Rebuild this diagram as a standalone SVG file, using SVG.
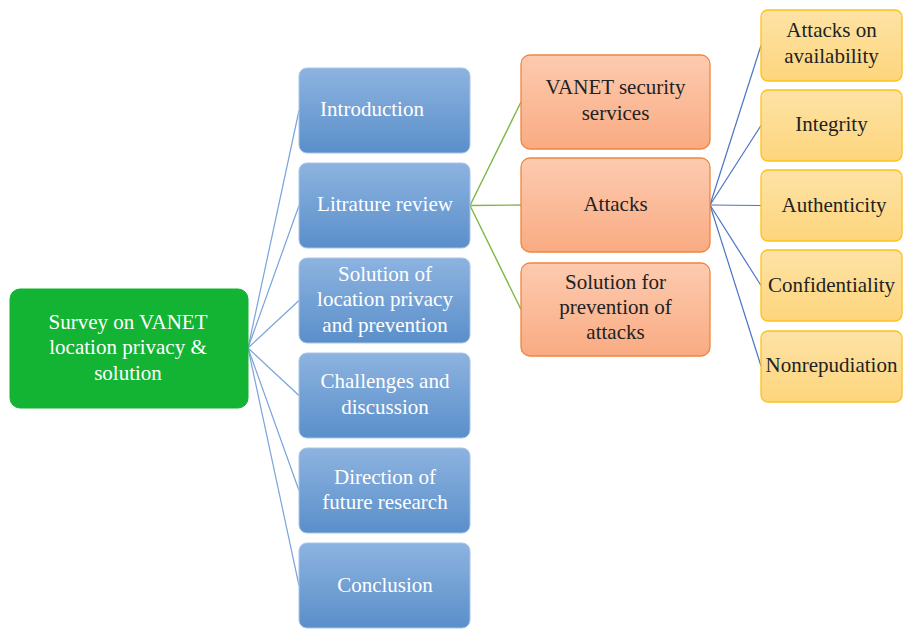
<svg xmlns="http://www.w3.org/2000/svg" width="904" height="629" viewBox="0 0 904 629">
<defs>
<linearGradient id="gBlue" x1="0" y1="0" x2="0" y2="1"><stop offset="0" stop-color="#8db3e0"/><stop offset="1" stop-color="#5a8fca"/></linearGradient>
<linearGradient id="gOrange" x1="0" y1="0" x2="0" y2="1"><stop offset="0" stop-color="#fdcbb0"/><stop offset="1" stop-color="#f9ab82"/></linearGradient>
<linearGradient id="gYellow" x1="0" y1="0" x2="0" y2="1"><stop offset="0" stop-color="#fee3a6"/><stop offset="1" stop-color="#fdd57c"/></linearGradient>
</defs>
<style>
text{font-family:"Liberation Serif","Times New Roman",serif;font-size:21px;text-anchor:middle}
.root rect{fill:#13b334;stroke:#13b334;stroke-width:1}
.root text{fill:#ffffff}
.blue rect{fill:url(#gBlue);stroke:#a9c4e6;stroke-width:1}
.blue text{fill:#ffffff}
.orange rect{fill:url(#gOrange);stroke:#ee8540;stroke-width:1.3}
.orange text{fill:#222222}
.yellow rect{fill:url(#gYellow);stroke:#fcc21b;stroke-width:1.3}
.yellow text{fill:#222222}
.cb{stroke:#79a4da;stroke-width:1.2;fill:none}
.cg{stroke:#7cb845;stroke-width:1.4;fill:none}
.cd{stroke:#4a74c6;stroke-width:1.2;fill:none}
</style>
<rect width="904" height="629" fill="#ffffff"/>
<g id="connectors">
<line class="cb" x1="248" y1="348" x2="299" y2="110.5"/>
<line class="cb" x1="248" y1="348" x2="299" y2="205.5"/>
<line class="cb" x1="248" y1="348" x2="299" y2="300.5"/>
<line class="cb" x1="248" y1="348" x2="299" y2="395.5"/>
<line class="cb" x1="248" y1="348" x2="299" y2="490.5"/>
<line class="cb" x1="248" y1="348" x2="299" y2="585.5"/>
<line class="cg" x1="470" y1="205.5" x2="521" y2="102"/>
<line class="cg" x1="470" y1="205.5" x2="521" y2="205"/>
<line class="cg" x1="470" y1="205.5" x2="521" y2="309.5"/>
<line class="cd" x1="710" y1="205" x2="761" y2="45.5"/>
<line class="cd" x1="710" y1="205" x2="761" y2="125.5"/>
<line class="cd" x1="710" y1="205" x2="761" y2="205.5"/>
<line class="cd" x1="710" y1="205" x2="761" y2="285.5"/>
<line class="cd" x1="710" y1="205" x2="761" y2="366"/>
</g>
<g id="root" class="root"><rect x="10" y="289" width="238" height="119" rx="10"/>
<text x="128" y="329">Survey on VANET</text><text x="128" y="354">location privacy &amp;</text><text x="128" y="380">solution</text></g>
<g id="introduction" class="blue"><rect x="299" y="68" width="171" height="85" rx="8"/><text x="372" y="116">Introduction</text></g>
<g id="litrature" class="blue"><rect x="299" y="163" width="171" height="85" rx="8"/><text x="385" y="211">Litrature review</text></g>
<g id="solution-location" class="blue"><rect x="299" y="258" width="171" height="85" rx="8"/><text x="385" y="281">Solution of</text><text x="385" y="306">location privacy</text><text x="385" y="332">and prevention</text></g>
<g id="challenges" class="blue"><rect x="299" y="353" width="171" height="85" rx="8"/><text x="385" y="388">Challenges and</text><text x="385" y="414">discussion</text></g>
<g id="direction" class="blue"><rect x="299" y="448" width="171" height="85" rx="8"/><text x="385" y="484">Direction of</text><text x="385" y="509">future research</text></g>
<g id="conclusion" class="blue"><rect x="299" y="543" width="171" height="85" rx="8"/><text x="385" y="592">Conclusion</text></g>
<g id="security-services" class="orange"><rect x="521" y="55" width="189" height="94" rx="9"/><text x="615.5" y="94">VANET security</text><text x="615.5" y="120">services</text></g>
<g id="attacks" class="orange"><rect x="521" y="158" width="189" height="94" rx="9"/><text x="615.5" y="211">Attacks</text></g>
<g id="solution-attacks" class="orange"><rect x="521" y="263" width="189" height="93" rx="9"/><text x="615.5" y="289">Solution for</text><text x="615.5" y="314">prevention of</text><text x="615.5" y="339">attacks</text></g>
<g id="availability" class="yellow"><rect x="761" y="10" width="141" height="71" rx="7"/><text x="831.5" y="37">Attacks on</text><text x="831.5" y="63">availability</text></g>
<g id="integrity" class="yellow"><rect x="761" y="90" width="141" height="71" rx="7"/><text x="831.5" y="131">Integrity</text></g>
<g id="authenticity" class="yellow"><rect x="761" y="170" width="141" height="71" rx="7"/><text x="834" y="212">Authenticity</text></g>
<g id="confidentiality" class="yellow"><rect x="761" y="250" width="141" height="71" rx="7"/><text x="831.5" y="292">Confidentiality</text></g>
<g id="nonrepudiation" class="yellow"><rect x="761" y="331" width="141" height="71" rx="7"/><text x="831.5" y="372">Nonrepudiation</text></g>
</svg>
